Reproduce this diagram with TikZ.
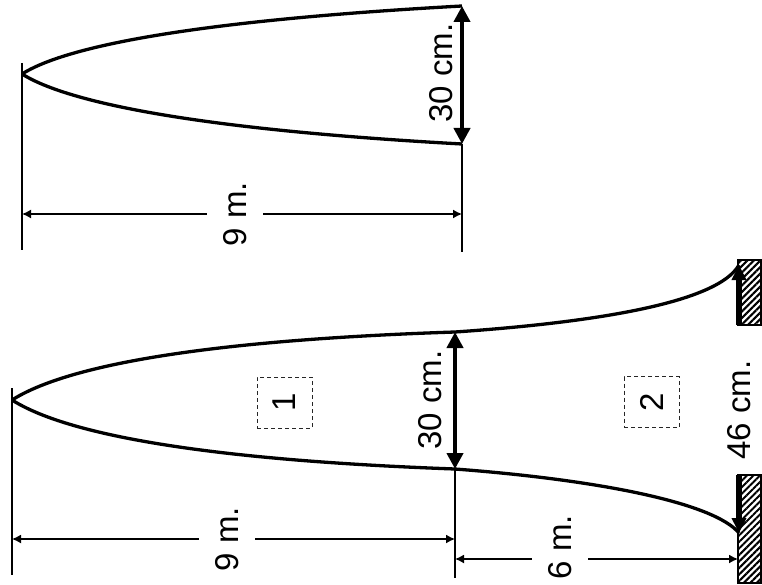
\documentclass[tikz,border=0pt]{standalone}
\usepackage{fontspec}
\setmainfont{Liberation Sans}
\usepackage{graphicx}
\usetikzlibrary{arrows.meta,patterns.meta}
\begin{document}
\begin{tikzpicture}[x=1pt,y=-1pt,
  curve/.style={line width=3.3pt,line join=round},
  ext/.style={line width=1.5pt},
  extthick/.style={line width=2.2pt},
  dimline/.style={line width=1.5pt,{Latex[length=9pt,width=9pt]}-{Latex[length=9pt,width=9pt]}},
  bigdim/.style={line width=4pt,{Triangle[length=16pt,width=16pt]}-{Triangle[length=16pt,width=16pt]}},
  wallarrow/.style={line width=6pt,-{Triangle[length=15pt,width=14pt]}},
  lab/.style={font=\fontsize{33}{38}\selectfont, rotate=90, inner sep=0pt},
  gaplab/.style={lab, fill=white, inner ysep=16pt, inner xsep=2pt},
  numbox/.style={draw=black!85, line width=1pt, dash pattern=on 4pt off 3pt,
    minimum width=55pt, minimum height=51pt, inner sep=0pt,
    font=\fontsize{33}{38}\selectfont},
  wall/.style={draw=black, line width=1.5pt,
    pattern={Lines[angle=45,distance=4.6pt,line width=2pt]}}
]
\useasboundingbox (0,0) rectangle (762,585);

% ---------- top figure ----------
\coordinate (tA) at (22,74);
\coordinate (tU) at (462,6);
\coordinate (tL) at (462,144);
\coordinate (tE1a) at (22,63);
\coordinate (tE1b) at (22,250);
\coordinate (tE2b) at (462,252);
\coordinate (tD1) at (22,214);
\coordinate (tD2) at (462,214);

\draw[curve] (tA) .. controls (60,50) and (170,22) .. (tU);
\draw[curve] (tA) .. controls (60,98) and (170,128) .. (tL);
\draw[extthick] (tE1a) -- (tE1b);
\draw[ext] (tL) -- (tE2b);
\draw[bigdim] (tU) -- (tL);
\node[lab] (t30) at (441,73) {30 cm.};
\draw[dimline] (tD1) -- (tD2);
\node[gaplab] (t9) at (235,214) {9 m.};

% ---------- bottom figure ----------
\coordinate (bA) at (12,400);
\coordinate (bU) at (455,332);
\coordinate (bL) at (455,469);
\coordinate (wU) at (739,265);
\coordinate (wL) at (739,533);
\coordinate (bE1a) at (12,388);
\coordinate (bE1b) at (12,575);
\coordinate (bE2b) at (455,578);
\coordinate (bD1) at (12,539);
\coordinate (bD2) at (455,539);
\coordinate (bD3) at (455,559);
\coordinate (bD4) at (738,559);

% walls
\draw[wall] (738,260) rectangle (761,325);
\draw[wall] (738,475) rectangle (761,583);

\draw[curve] (bA) .. controls (50,376) and (150,342) .. (bU)
  .. controls (600,322) and (718,302) .. (wU);
\draw[curve] (bA) .. controls (50,424) and (150,458) .. (bL)
  .. controls (600,480) and (714,503) .. (wL);

\draw[extthick] (bE1a) -- (bE1b);
\draw[ext] (bL) -- (bE2b);
\draw[bigdim] (bU) -- (bL);
\node[lab] (b30) at (430,400) {30 cm.};

\draw[dimline] (bD1) -- (bD2);
\node[gaplab] (b9) at (227,539) {9 m.};
\draw[dimline] (bD3) -- (bD4);
\node[gaplab] (b6) at (560,547) {6 m.};

% 46 cm. dimension in the wall
\coordinate (w1) at (739,325);
\coordinate (w2) at (739,475);
\draw[wallarrow] (w1) -- (wU);
\draw[wallarrow] (w2) -- (wL);
\node[lab] (b46) at (739,410) {46 cm.};

% numbered boxes
\node[numbox] (box1) at (284.5,402.5) {\rotatebox{90}{1}};
\node[numbox] (box2) at (651.5,402) {\rotatebox{90}{2}};
\end{tikzpicture}
\end{document}
